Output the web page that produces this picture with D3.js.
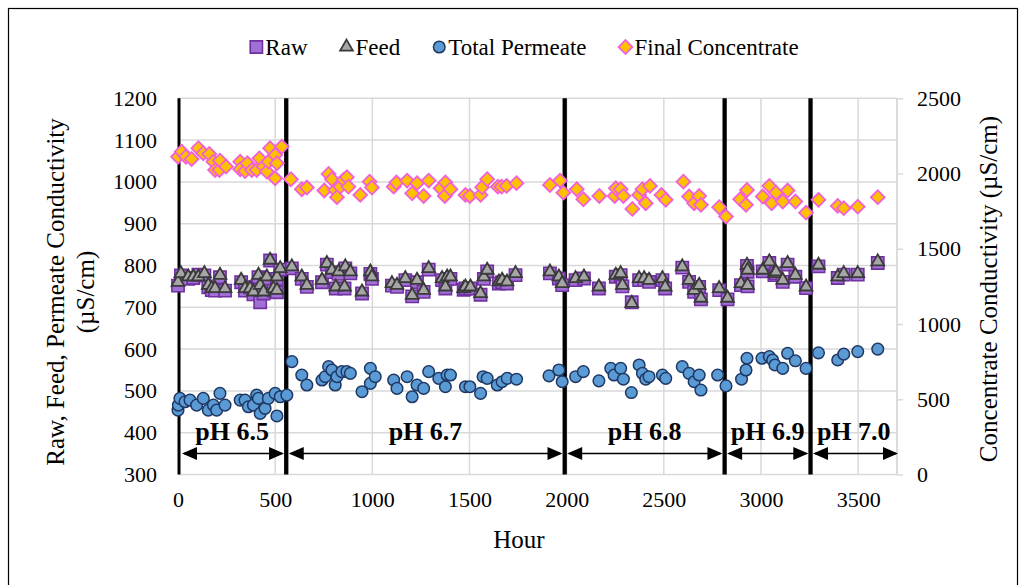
<!DOCTYPE html>
<html>
<head>
<meta charset="utf-8">
<script src="https://cdn.jsdelivr.net/npm/d3@7"></script>
<style>
  body { margin: 0; background: #fff; }
  svg { display: block; }
  text { font-family: "Liberation Serif", "Times New Roman", serif; fill: #000; }
</style>
</head>
<body>
<svg id="chart" width="1026" height="585"></svg>
<script>
// Conductivity readings, [hour, µS/cm]
const rawPoints = [
  [0,752],[15,776],[53,768],[79,770],[105,778],[136,776],[156,748],[174,741],[191,740],[216,772],[242,740],[325,760],[345,740],[371,748],[388,731],[414,772],[423,712],[440,733],[457,768],[474,812],[491,740],[509,736],[509,768],[526,790],
  [586,793],[637,768],[663,749],[741,760],[766,802],[792,784],[812,745],[826,780],[857,745],[861,793],[887,781],[947,733],[990,780],[998,768],[1101,752],[1127,749],[1170,765],[1205,726],[1230,760],[1264,737],[1290,790],[1359,765],[1376,745],[1385,768],[1402,768],[1470,742],
  [1479,745],[1505,745],[1557,730],[1574,768],[1591,786],[1651,757],[1668,760],[1693,757],[1737,777],[1914,781],[1960,769],[1977,753],
  [2046,765],[2089,769],[2166,745],[2253,773],[2278,777],[2287,750],[2335,712],[2373,765],[2399,765],[2424,761],[2493,765],[2507,745],[2595,795],[2630,761],[2656,737],[2682,749],[2691,719],[2785,741],[2828,719],
  [2897,753],[2928,799],[2931,785],[2931,750],[3009,786],[3043,806],[3069,777],[3077,781],[3112,761],[3137,802],[3177,773],[3232,746],
  [3296,798],[3395,770],[3426,778],[3498,778],[3601,806]
];
const feedPoints = [
  [0,760],[15,781],[53,773],[79,773],[105,773],[136,781],[156,753],[174,745],[191,745],[216,777],[242,745],[325,765],[345,745],[371,745],[388,737],[414,777],[423,753],[440,737],[457,773],[474,813],[491,745],[509,741],[509,773],[526,793],
  [586,797],[637,773],[663,753],[741,765],[766,805],[792,789],[812,749],[826,785],[857,749],[861,797],[887,785],[947,737],[990,785],[998,773],[1101,757],[1127,753],[1170,769],[1205,729],[1230,765],[1264,741],[1290,793],[1359,769],[1376,749],[1385,773],[1402,773],[1470,745],
  [1479,749],[1505,749],[1557,733],[1574,773],[1591,789],[1651,761],[1668,765],[1693,761],[1737,781],[1914,785],[1960,773],[1977,757],
  [2046,769],[2089,773],[2166,749],[2253,777],[2278,781],[2287,753],[2335,710],[2373,769],[2399,769],[2424,765],[2493,769],[2507,749],[2595,797],[2630,765],[2656,741],[2682,753],[2691,722],[2785,745],[2828,722],
  [2897,757],[2928,801],[2931,789],[2931,753],[3009,789],[3043,809],[3069,781],[3077,785],[3112,765],[3137,805],[3177,777],[3232,749],
  [3296,801],[3395,773],[3426,781],[3498,781],[3601,809]
];
const permeatePoints = [
  [0,454],[2,466],[10,482],[36,474],[62,478],[96,466],[130,482],[156,454],[182,466],[199,454],[216,494],[242,466],[320,478],[345,478],[362,462],[388,466],[405,490],[414,482],[423,446],[448,458],[465,482],[500,494],[509,440],[526,486],[560,490],
  [586,570],[637,538],[663,514],[741,526],[758,534],[775,558],[792,550],[809,514],[818,534],[843,546],[869,546],[887,542],[947,498],[990,554],[990,518],[1015,534],[1110,526],[1127,506],[1179,534],[1205,486],[1230,514],[1264,506],[1290,546],[1342,530],[1376,510],[1385,538],[1402,538],
  [1479,510],[1502,510],[1557,494],[1570,534],[1591,530],[1643,514],[1668,522],[1694,530],[1742,528],[1909,536],[1960,550],[1977,522],
  [2046,534],[2086,546],[2166,524],[2227,554],[2244,538],[2278,554],[2292,528],[2333,496],[2373,562],[2390,542],[2407,528],[2424,534],[2493,538],[2510,530],[2595,558],[2630,542],[2656,522],[2682,538],[2691,502],[2777,538],[2820,512],
  [2900,528],[2923,550],[2928,578],[3005,578],[3043,582],[3060,574],[3072,562],[3112,554],[3137,590],[3177,572],[3232,554],
  [3296,591],[3395,574],[3426,588],[3498,594],[3601,600]
];
// Final concentrate, read on the right axis
const concentratePoints = [
  [0,2112],[19,2145],[41,2112],[70,2097],[105,2168],[130,2135],[161,2130],[182,2079],[191,2024],[213,2024],[216,2086],[247,2046],[320,2079],[320,2029],[345,2017],[357,2068],[380,2024],[405,2024],[419,2101],[440,2046],[457,2013],[465,2079],[474,2168],[500,2123],[500,1969],[509,2068],[534,2179],
  [581,1962],[637,1896],[663,1907],[753,1887],[775,1997],[792,1962],[809,1891],[818,1843],[835,1913],[852,1958],[869,1976],[877,1913],[938,1858],[986,1946],[998,1907],[1110,1913],[1124,1940],[1179,1953],[1205,1869],[1230,1936],[1264,1851],[1290,1953],[1351,1902],[1373,1851],[1376,1941],[1402,1896],
  [1479,1858],[1502,1851],[1557,1858],[1565,1909],[1591,1962],[1646,1913],[1665,1913],[1691,1918],[1742,1936],[1914,1924],[1966,1953],[1983,1873],
  [2052,1896],[2086,1829],[2168,1851],[2247,1851],[2253,1902],[2278,1896],[2292,1851],[2338,1765],[2373,1858],[2390,1896],[2407,1803],[2429,1918],[2488,1858],[2510,1825],[2601,1946],[2630,1847],[2656,1803],[2682,1851],[2691,1792],[2785,1776],[2820,1714],
  [2893,1829],[2923,1792],[2928,1891],[3009,1847],[3043,1918],[3055,1803],[3077,1873],[3112,1814],[3137,1887],[3177,1814],[3232,1740],
  [3296,1825],[3395,1785],[3426,1770],[3498,1780],[3601,1843]
];

// pH operating periods (hour boundaries) and their labels
const phBoundaries = [0, 557, 1990, 2813, 3255, 3700];
const phLabels = ["pH 6.5", "pH 6.7", "pH 6.8", "pH 6.9", "pH 7.0"];

const hourTicks = [0, 500, 1000, 1500, 2000, 2500, 3000, 3500];
const leftTicks = [300, 400, 500, 600, 700, 800, 900, 1000, 1100, 1200];
const rightTicks = [0, 500, 1000, 1500, 2000, 2500];

const seriesNames = ["Raw", "Feed", "Total Permeate", "Final Concentrate"];

const svg = d3.select("#chart");
const plot = { left: 178, right: 897, top: 98.3, bottom: 474.5 };

const x = d3.scaleLinear().domain([0, 3700]).range([plot.left, plot.right]);
const yL = d3.scaleLinear().domain([300, 1200]).range([plot.bottom, plot.top]);
const yR = d3.scaleLinear().domain([0, 2500]).range([plot.bottom, plot.top]);

const gridColor = "#d9d9d9";

// Chart-area frame
svg.append("rect")
  .attr("x", 8.5).attr("y", 8.5).attr("width", 1009).attr("height", 620)
  .attr("fill", "#fff").attr("stroke", "#000").attr("stroke-width", 1.2);

// Gridlines
const grid = svg.append("g");
grid.selectAll(".hg").data(leftTicks).join("line")
  .attr("x1", plot.left).attr("x2", plot.right)
  .attr("y1", d => yL(d)).attr("y2", d => yL(d))
  .attr("stroke", gridColor).attr("stroke-width", 1.5);
grid.selectAll(".vg").data(hourTicks.filter(d => d > 0).concat([3700])).join("line")
  .attr("x1", d => x(d)).attr("x2", d => x(d))
  .attr("y1", plot.top).attr("y2", plot.bottom)
  .attr("stroke", gridColor).attr("stroke-width", 1.5);

// Axes
const fontSize = 22;
const xAxis = svg.append("g").attr("transform", `translate(0,${plot.bottom})`)
  .call(d3.axisBottom(x).tickValues(hourTicks).tickFormat(d3.format("d")).tickSize(0).tickPadding(17));
const lAxis = svg.append("g").attr("transform", `translate(${plot.left},0)`)
  .call(d3.axisLeft(yL).tickValues(leftTicks).tickFormat(d3.format("d")).tickSize(0).tickPadding(21));
const rAxis = svg.append("g").attr("transform", `translate(${plot.right},0)`)
  .call(d3.axisRight(yR).tickValues(rightTicks).tickFormat(d3.format("d")).tickSize(6).tickPadding(14));
[xAxis, lAxis, rAxis].forEach(a => {
  a.select(".domain").remove();
  a.selectAll("text").attr("font-size", fontSize).attr("font-family", "Liberation Serif, serif").attr("fill", "#000");
  a.selectAll(".tick line").attr("stroke", gridColor).attr("stroke-width", 1.5);
});
svg.append("line").attr("x1", plot.right).attr("x2", plot.right)
  .attr("y1", plot.top).attr("y2", plot.bottom).attr("stroke", gridColor).attr("stroke-width", 1.5);

// pH period boundaries
svg.append("g").selectAll("line").data(phBoundaries.slice(0, -1)).join("line")
  .attr("x1", d => x(d) + (d === 0 ? 1 : 0)).attr("x2", d => x(d) + (d === 0 ? 1 : 0))
  .attr("y1", plot.top).attr("y2", plot.bottom)
  .attr("stroke", "#000").attr("stroke-width", d => d === 0 ? 3 : 4.3);

// Marker styles
const styles = {
  "Raw": { type: d3.symbolSquare, size: 150, fill: "#a070d4", stroke: "#7030a0", sw: 1.6, rot: 0 },
  "Feed": { type: d3.symbolTriangle, size: 70, fill: "#a6a6a6", stroke: "#3a3a3a", sw: 1.8, rot: 0 },
  "Total Permeate": { type: d3.symbolCircle, size: Math.PI * 5.8 * 5.8, fill: "#5b9bd5", stroke: "#1f3864", sw: 1.5, rot: 0 },
  "Final Concentrate": { type: d3.symbolSquare, size: 96, fill: "#ffc000", stroke: "#f060d8", sw: 1.8, rot: 45 }
};
const seriesData = [
  { name: "Raw", pts: rawPoints, y: yL },
  { name: "Feed", pts: feedPoints, y: yL },
  { name: "Total Permeate", pts: permeatePoints, y: yL },
  { name: "Final Concentrate", pts: concentratePoints, y: yR }
];
seriesData.forEach(s => {
  const st = styles[s.name];
  svg.append("g").selectAll("path").data(s.pts).join("path")
    .attr("d", d3.symbol().type(st.type).size(st.size))
    .attr("transform", d => `translate(${x(d[0])},${s.y(d[1])}) rotate(${st.rot})`)
    .attr("fill", st.fill).attr("stroke", st.stroke).attr("stroke-width", st.sw);
});

// pH labels and double-headed arrows
const arrowY = 453.5, headL = 15, headH = 6.6;
const segs = phLabels.map((lab, i) => ({ lab, a: phBoundaries[i], b: phBoundaries[i + 1] }));
const ag = svg.append("g");
segs.forEach((s, i) => {
  const x0 = x(s.a) + (i === 0 ? 4 : 2.5);
  const x1 = x(s.b) - (i === segs.length - 1 ? -1 : 2.2);
  ag.append("line").attr("x1", x0 + 2).attr("x2", x1 - 2).attr("y1", arrowY).attr("y2", arrowY)
    .attr("stroke", "#000").attr("stroke-width", 1.6);
  ag.append("path").attr("d", `M${x0},${arrowY}L${x0 + headL},${arrowY - headH}L${x0 + headL},${arrowY + headH}Z`).attr("fill", "#000");
  ag.append("path").attr("d", `M${x1},${arrowY}L${x1 - headL},${arrowY - headH}L${x1 - headL},${arrowY + headH}Z`).attr("fill", "#000");
  ag.append("text").attr("x", (x(s.a) + x(s.b)) / 2).attr("y", 440)
    .attr("text-anchor", "middle").attr("font-size", 26).attr("font-weight", "bold").text(s.lab);
});

// Axis titles
const titleSize = 25;
svg.append("text").attr("transform", "translate(519,548)").attr("text-anchor", "middle")
  .attr("font-size", titleSize).text("Hour");
const lt = svg.append("text").attr("transform", "translate(0,292) rotate(-90)")
  .attr("text-anchor", "middle").attr("font-size", titleSize);
lt.append("tspan").attr("x", 0).attr("y", 64).text("Raw, Feed, Permeate Conductivity");
lt.append("tspan").attr("x", 0).attr("y", 94).text("(µS/cm)");
svg.append("text").attr("transform", "translate(997,289) rotate(-90)")
  .attr("text-anchor", "middle").attr("font-size", titleSize).text("Concentrate Conductivity (µS/cm)");

// Legend
const lg = svg.append("g");
const legendY = 47, legendGap = 32;
let cursor = 0;
seriesNames.forEach(name => {
  const st = styles[name];
  const g = lg.append("g");
  g.append("path")
    .attr("d", d3.symbol().type(st.type).size(st.size))
    .attr("transform", `translate(${cursor + 7},${legendY}) rotate(${st.rot})`)
    .attr("fill", st.fill).attr("stroke", st.stroke).attr("stroke-width", st.sw);
  const t = g.append("text").attr("x", cursor + 16).attr("y", legendY + 7.5)
    .attr("font-size", 23).text(name);
  cursor += 16 + t.node().getComputedTextLength() + legendGap;
});
const legendW = cursor - legendGap;
lg.attr("transform", `translate(${524 - legendW / 2},0)`);
</script>
</body>
</html>
